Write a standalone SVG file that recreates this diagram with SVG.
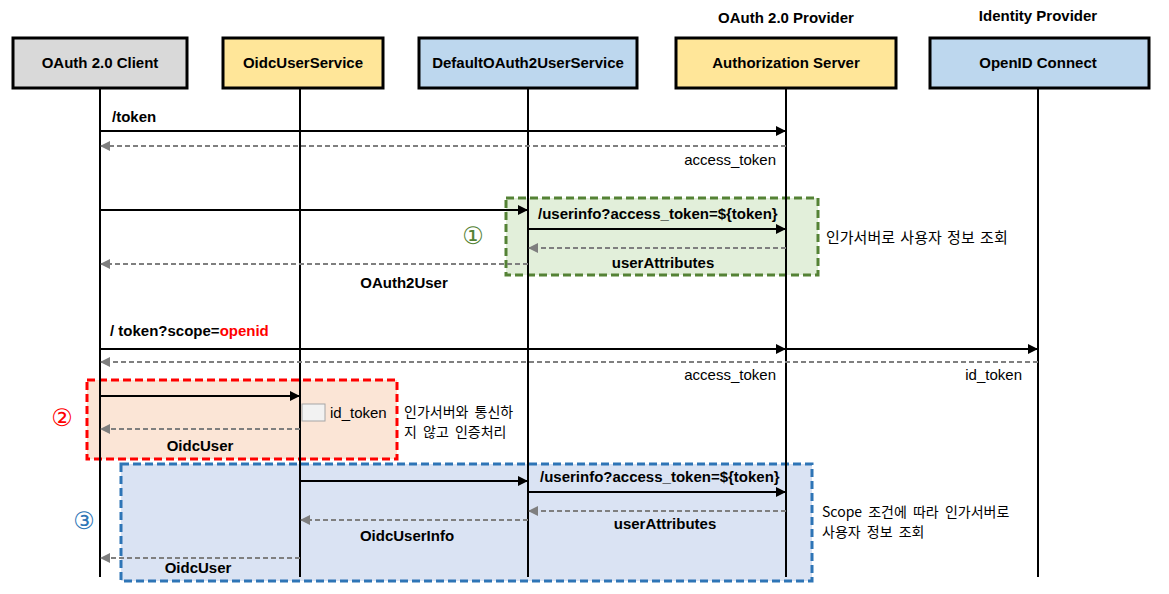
<svg xmlns="http://www.w3.org/2000/svg" width="1169" height="594" viewBox="0 0 1169 594">
<defs>
<style>
.node rect{stroke:#000;stroke-width:3}
.t{font-family:"Liberation Sans","Noto Sans CJK KR",sans-serif;font-size:15px;fill:#000}
.b{font-weight:bold}
.k{font-family:"Noto Sans CJK KR","Liberation Sans",sans-serif;font-size:15px;fill:#000;word-spacing:2px}
.k2{font-family:"Noto Sans CJK KR","Liberation Sans",sans-serif;font-size:14px;fill:#000;word-spacing:3px}
.num{font-family:"DejaVu Sans","Noto Sans CJK KR",sans-serif;font-size:24px}
.life{stroke:#000;stroke-width:2}
.msg{stroke:#000;stroke-width:2;fill:none;marker-end:url(#ah)}
.ret{stroke:#7f7f7f;stroke-width:2;stroke-dasharray:5,3;fill:none;marker-end:url(#ahg)}
</style>
<marker id="ah" viewBox="0 0 10 10" refX="9" refY="5" markerWidth="5" markerHeight="5" orient="auto"><path d="M0,0 L10,5 L0,10 z" fill="#000"/></marker>
<marker id="ahg" viewBox="0 0 10 10" refX="9" refY="5" markerWidth="5" markerHeight="5" orient="auto"><path d="M0,0 L10,5 L0,10 z" fill="#7f7f7f"/></marker>
</defs>
<rect width="1169" height="594" fill="#fff"/>

<!-- regions -->
<g id="region1">
<rect x="506" y="198" width="312" height="77" fill="#e2efda" stroke="#548235" stroke-width="3" stroke-dasharray="8,4"/>
<text class="num" x="473" y="244" text-anchor="middle" fill="#548235">①</text>
</g>
<g id="region2">
<rect x="87" y="380" width="310" height="79" fill="#fbe5d6" stroke="#ff0000" stroke-width="3" stroke-dasharray="8,4"/>
<text class="num" x="62" y="426" text-anchor="middle" fill="#ff0000">②</text>
</g>
<g id="region3">
<rect x="121" y="464" width="691" height="117" fill="#dae3f3" stroke="#2e75b6" stroke-width="3" stroke-dasharray="8,4"/>
<text class="num" x="84" y="529" text-anchor="middle" fill="#2e75b6">③</text>
</g>

<!-- lifelines -->
<g id="lifelines">
<line class="life" x1="100" y1="88" x2="100" y2="577"/>
<line class="life" x1="300" y1="88" x2="300" y2="577"/>
<line class="life" x1="528" y1="88" x2="528" y2="577"/>
<line class="life" x1="786" y1="88" x2="786" y2="577"/>
<line class="life" x1="1038" y1="88" x2="1038" y2="577"/>
</g>

<!-- nodes -->
<g id="client" class="node">
<rect x="13" y="38" width="174" height="50" fill="#d9d9d9"/>
<text class="t b" x="100" y="68" text-anchor="middle">OAuth 2.0 Client</text>
</g>
<g id="oidcUserService" class="node">
<rect x="223" y="38" width="160" height="50" fill="#ffe699"/>
<text class="t b" x="303" y="68" text-anchor="middle">OidcUserService</text>
</g>
<g id="defaultOAuth2UserService" class="node">
<rect x="419" y="38" width="218" height="50" fill="#bdd7ee"/>
<text class="t b" x="528" y="68" text-anchor="middle">DefaultOAuth2UserService</text>
</g>
<g id="authServer" class="node">
<text class="t b" x="786" y="23" text-anchor="middle">OAuth 2.0 Provider</text>
<rect x="676" y="38" width="220" height="50" fill="#ffe699"/>
<text class="t b" x="786" y="68" text-anchor="middle">Authorization Server</text>
</g>
<g id="openIdConnect" class="node">
<text class="t b" x="1038" y="21" text-anchor="middle">Identity Provider</text>
<rect x="930" y="38" width="219" height="50" fill="#bdd7ee"/>
<text class="t b" x="1038" y="68" text-anchor="middle">OpenID Connect</text>
</g>

<!-- connectors -->
<g id="connectors">
<line class="msg" x1="100" y1="131" x2="785" y2="131"/>
<line class="ret" x1="786" y1="146" x2="101" y2="146"/>
<line class="msg" x1="100" y1="210" x2="527" y2="210"/>
<line class="msg" x1="528" y1="229" x2="785" y2="229"/>
<line class="ret" x1="786" y1="248" x2="529" y2="248"/>
<line class="ret" x1="528" y1="264" x2="101" y2="264"/>
<line class="msg" x1="100" y1="349" x2="785" y2="349"/>
<line class="msg" x1="786" y1="349" x2="1037" y2="349"/>
<line class="ret" x1="1038" y1="362" x2="101" y2="362"/>
<line class="msg" x1="100" y1="396" x2="299" y2="396"/>
<line class="ret" x1="300" y1="429" x2="101" y2="429"/>
<line class="msg" x1="300" y1="481" x2="527" y2="481"/>
<line class="msg" x1="528" y1="492" x2="785" y2="492"/>
<line class="ret" x1="786" y1="511" x2="529" y2="511"/>
<line class="ret" x1="528" y1="520" x2="301" y2="520"/>
<line class="ret" x1="300" y1="558" x2="101" y2="558"/>
</g>

<!-- labels -->
<g id="labels">
<text class="t b" x="112" y="122">/token</text>
<text class="t" x="776" y="165" text-anchor="end">access_token</text>
<text class="t b" x="538" y="219">/userinfo?access_token=${token}</text>
<text class="t b" x="663" y="268" text-anchor="middle">userAttributes</text>
<text class="t b" x="404" y="288" text-anchor="middle">OAuth2User</text>
<text class="k" x="826" y="243">인가서버로 사용자 정보 조회</text>
<text class="t b" x="110" y="336">/ token?scope=<tspan fill="#ff0000">openid</tspan></text>
<text class="t" x="776" y="380" text-anchor="end">access_token</text>
<text class="t" x="1022" y="380" text-anchor="end">id_token</text>
<rect x="302" y="404" width="23" height="17" fill="#f2f2f2" stroke="#a6a6a6" stroke-width="1"/>
<text class="t" x="330" y="418">id_token</text>
<text class="t b" x="200" y="451" text-anchor="middle">OidcUser</text>
<text class="k2" x="404" y="417">인가서버와 통신하</text>
<text class="k2" x="404" y="437">지 않고 인증처리</text>
<text class="t b" x="540" y="482">/userinfo?access_token=${token}</text>
<text class="t b" x="665" y="529" text-anchor="middle">userAttributes</text>
<text class="t b" x="407" y="541" text-anchor="middle">OidcUserInfo</text>
<text class="t b" x="198" y="573" text-anchor="middle">OidcUser</text>
<text class="k2" x="822" y="517">Scope 조건에 따라 인가서버로</text>
<text class="k2" x="822" y="537">사용자 정보 조회</text>
</g>
</svg>
